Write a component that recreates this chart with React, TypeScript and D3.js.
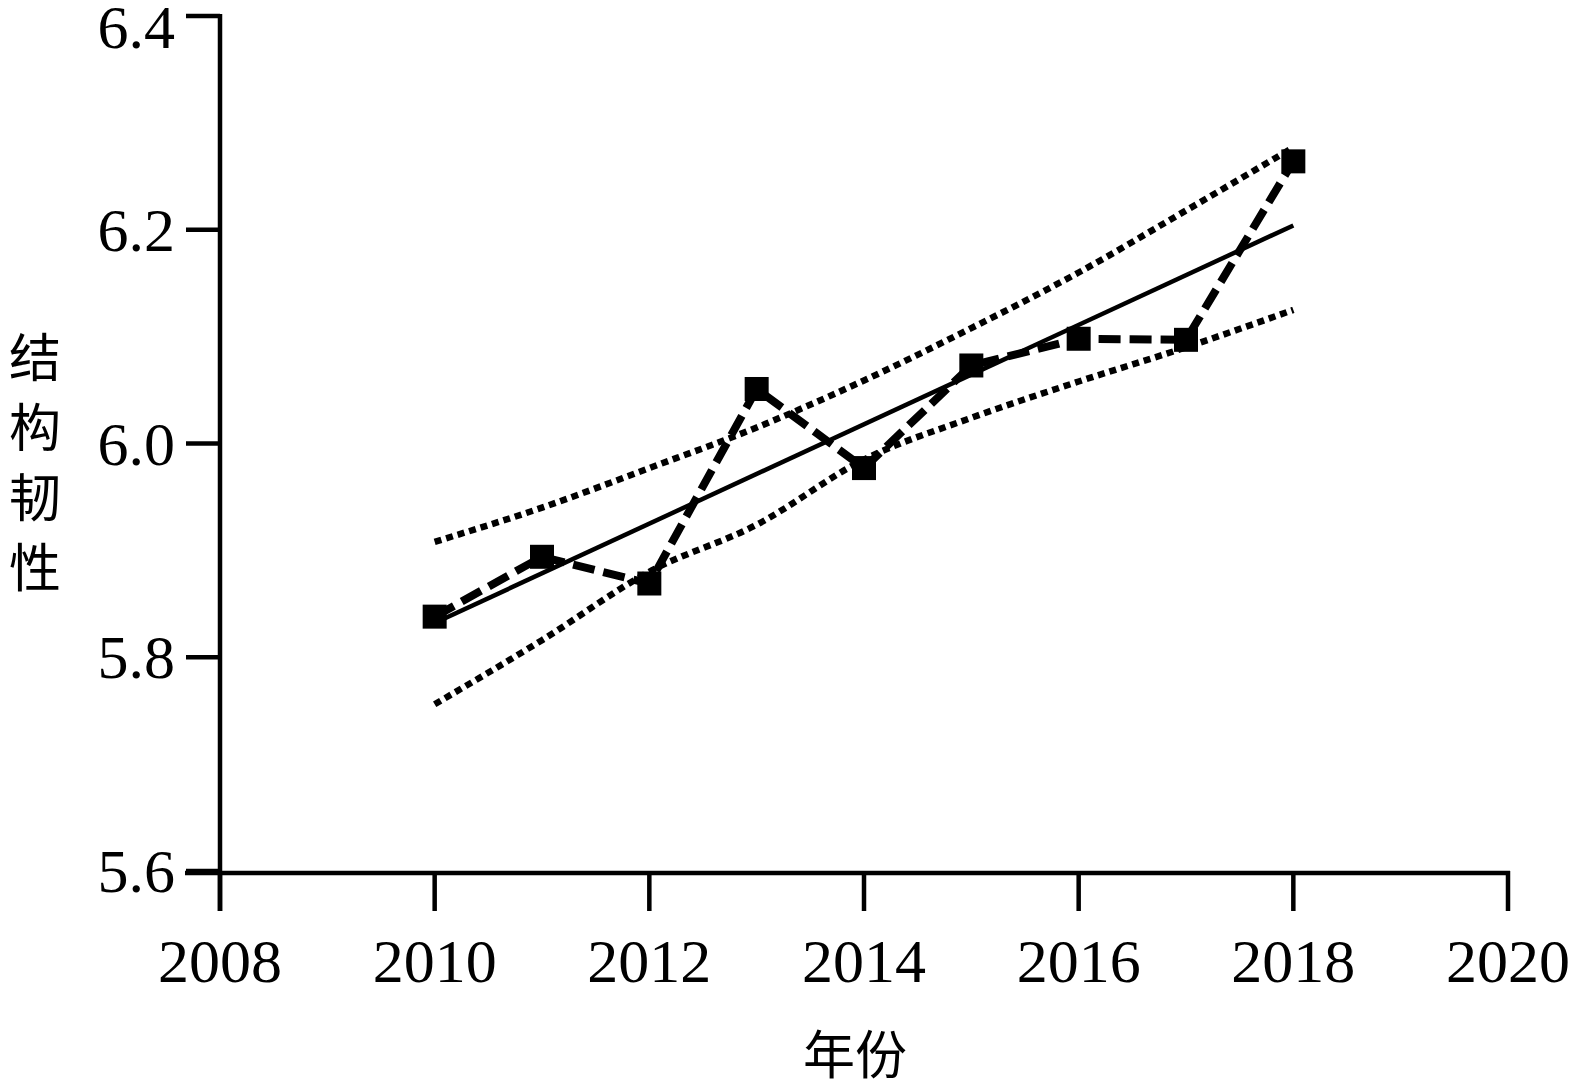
import React from "react";
import * as d3 from "d3";

const years = [2010, 2011, 2012, 2013, 2014, 2015, 2016, 2017, 2018];
const observed = [5.838, 5.894, 5.869, 6.051, 5.977, 6.073, 6.098, 6.097, 6.264];
const fitYears = [2010, 2018];
const fitValues = [5.832, 6.204];
const upperBand = [5.908, 5.94, 5.977, 6.015, 6.059, 6.108, 6.16, 6.218, 6.277];
const lowerBand = [5.756, 5.816, 5.88, 5.924, 5.985, 6.024, 6.058, 6.09, 6.125];
const xTicks = [2008, 2010, 2012, 2014, 2016, 2018, 2020];
const yTicks = [5.6, 5.8, 6.0, 6.2, 6.4];
const xTitle = "年份";
const yTitle = "结构韧性";

const W = 1569;
const H = 1088;

export default function App() {
  const x = d3.scaleLinear().domain([2008, 2020]).range([220, 1508]);
  const y = d3.scaleLinear().domain([5.6, 6.4]).range([871, 16]);

  const lin = d3
    .line<[number, number]>()
    .x((d) => x(d[0]))
    .y((d) => y(d[1]));
  const smooth = d3
    .line<[number, number]>()
    .x((d) => x(d[0]))
    .y((d) => y(d[1]))
    .curve(d3.curveMonotoneX);

  const obsPts = years.map((yr, i) => [yr, observed[i]] as [number, number]);
  const upPts = years.map((yr, i) => [yr, upperBand[i]] as [number, number]);
  const loPts = years.map((yr, i) => [yr, lowerBand[i]] as [number, number]);
  const fitPts = fitYears.map((yr, i) => [yr, fitValues[i]] as [number, number]);

  const serif = "'Liberation Serif', 'Times New Roman', serif";
  const cjk = "'Noto Sans CJK SC', sans-serif";

  return (
    <div style={{ position: "fixed", left: 0, top: 0, width: W, height: H, background: "#fff" }}>
      <svg width={W} height={H} style={{ display: "block" }}>
        <rect x={0} y={0} width={W} height={H} fill="#fff" />
        {/* confidence bands */}
        <path d={smooth(upPts) || ""} fill="none" stroke="#000" strokeWidth={6.5} strokeDasharray="7,5" />
        <path d={smooth(loPts) || ""} fill="none" stroke="#000" strokeWidth={6.5} strokeDasharray="7,5" />
        {/* fit line */}
        <path d={lin(fitPts) || ""} fill="none" stroke="#000" strokeWidth={4.5} />
        {/* observed */}
        <path d={lin(obsPts) || ""} fill="none" stroke="#000" strokeWidth={8} strokeDasharray="22,9" />
        {obsPts.map((p, i) => (
          <rect key={i} x={x(p[0]) - 12} y={y(p[1]) - 12} width={24} height={24} fill="#000" />
        ))}
        {/* axes */}
        <line x1={220} x2={220} y1={14} y2={911} stroke="#000" strokeWidth={4.5} />
        <line x1={185} x2={1510} y1={873} y2={873} stroke="#000" strokeWidth={4.5} />
        {yTicks.map((t) => (
          <g key={t}>
            <line x1={186} x2={220} y1={y(t)} y2={y(t)} stroke="#000" strokeWidth={4.5} />
            <text
              x={175}
              y={Math.max(y(t), 27)}
              textAnchor="end"
              dominantBaseline="central"
              fontFamily={serif}
              fontSize={62}
              fill="#000"
            >
              {t.toFixed(1)}
            </text>
          </g>
        ))}
        {xTicks.map((t) => (
          <g key={t}>
            <line x1={x(t)} x2={x(t)} y1={871} y2={911} stroke="#000" strokeWidth={4.5} />
            <text x={x(t)} y={982} textAnchor="middle" fontFamily={serif} fontSize={62} fill="#000">
              {t}
            </text>
          </g>
        ))}
        <text x={855} y={1074} textAnchor="middle" fontFamily={cjk} fontSize={52} fill="#000">
          {xTitle}
        </text>
        {yTitle.split("").map((c, i) => (
          <text
            key={i}
            x={35}
            y={354 + i * 70}
            textAnchor="middle"
            dominantBaseline="central"
            fontFamily={cjk}
            fontSize={52}
            fill="#000"
          >
            {c}
          </text>
        ))}
      </svg>
    </div>
  );
}
